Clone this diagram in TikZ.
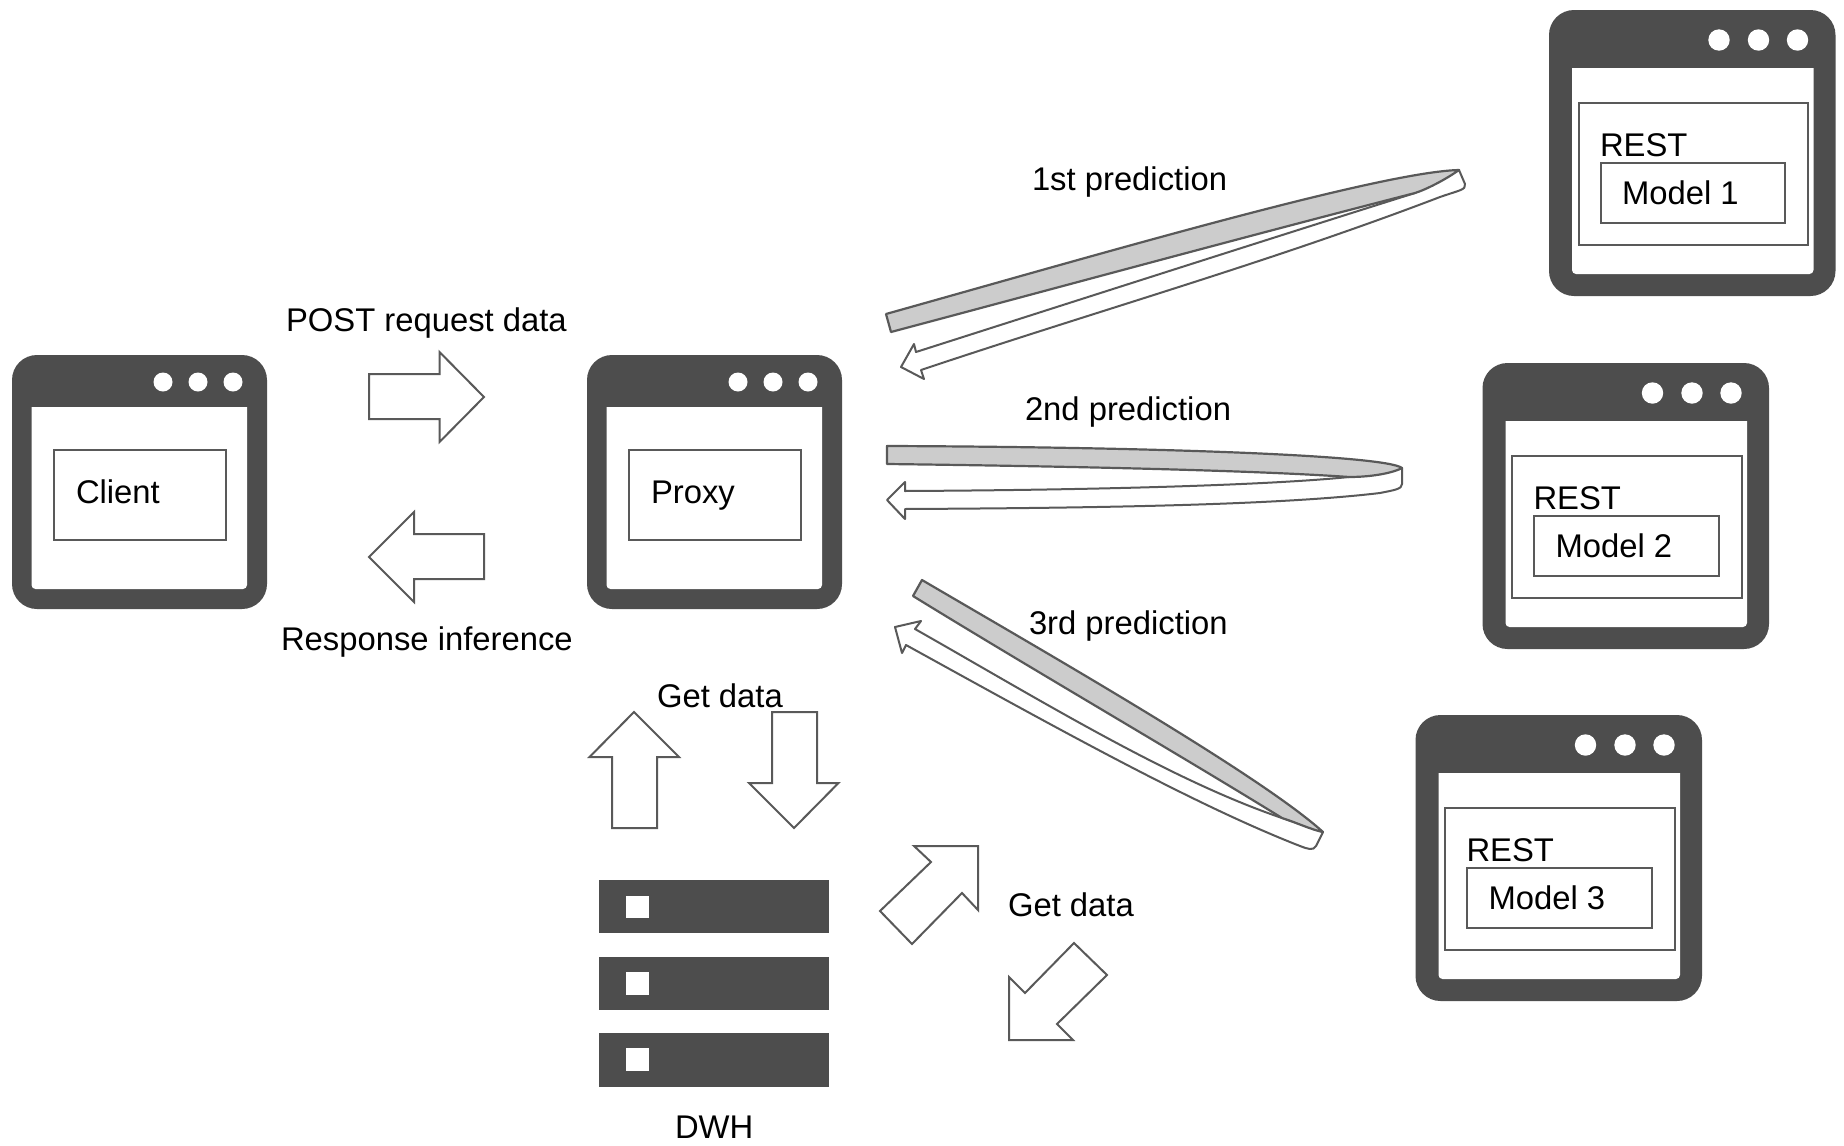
\documentclass[tikz,border=0pt]{standalone}
\usepackage{fontspec}
\setmainfont{Liberation Sans}
\definecolor{dark}{HTML}{4D4D4D}
\definecolor{edge}{HTML}{595959}
\definecolor{band}{HTML}{CCCCCC}
\tikzset{
  lbl/.style={anchor=base west,inner sep=0pt,outer sep=0pt,text=black,font=\fontsize{16.4pt}{20pt}\selectfont},
  blockarrow/.style={draw=edge,line width=1pt,fill=white,line join=miter},
  bandfill/.style={draw=edge,line width=1.1pt,fill=band,line join=round},
  framebox/.style={draw=edge,line width=1pt,fill=white},
  shell/.style={fill=dark,rounded corners=12.5pt},
  pane/.style={fill=white},
  dot/.style={fill=white},
  bar/.style={fill=dark},
}
% small window: x y name-text name
\newcommand\smallwin[4]{%
  \begin{scope}[shift={(#1,#2)}]
    \fill[shell] (0,0) rectangle (255,254);
    \fill[pane] (19.5,52) -- (235,52) [rounded corners=2pt] -- (235,234) -- (19.5,234) [sharp corners] -- cycle;
    \fill[dot] (151,27) circle (9.5) (186,27) circle (9.5) (221,27) circle (9.5);
    \draw[framebox] (41.5,95) rectangle (213.5,185);
    \node[lbl] (#4) at (64,148) {#3};
  \end{scope}}
% large window: x y model-text index
\newcommand\largewin[4]{%
  \begin{scope}[shift={(#1,#2)}]
    \fill[shell] (0,0) rectangle (286.5,286);
    \fill[pane] (23,58) -- (264.5,58) [rounded corners=2pt] -- (264.5,264) -- (23,264) [sharp corners] -- cycle;
    \fill[dot] (170,30) circle (10.7) (209.5,30) circle (10.7) (248.5,30) circle (10.7);
    \draw[framebox] (29.5,93) rectangle (259,235);
    \draw[framebox] (51.5,153) rectangle (236,212.5);
    \node[lbl] (rest#4) at (51,146) {REST};
    \node[lbl] (model#4) at (73,194) {#3};
  \end{scope}}
\begin{document}
\begin{tikzpicture}[x=0.5pt,y=-0.5pt]
\useasboundingbox (0,0) rectangle (1844,1146);
\fill[white] (0,0) rectangle (1844,1146);

\smallwin{12}{355}{Client}{client}
\smallwin{587}{355}{Proxy}{proxy}
\largewin{1549}{10}{Model 1}{a}
\largewin{1482.5}{363}{Model 2}{b}
\largewin{1415.5}{715}{Model 3}{c}

% horizontal block arrows
\path[blockarrow] (369,374) -- (439.5,374) -- (439.5,352) -- (484,397) -- (439.5,442) -- (439.5,419) -- (369,419) -- cycle;
\path[blockarrow] (369,557) -- (414,512) -- (414,534) -- (484,534) -- (484,579) -- (414,579) -- (414,602) -- cycle;
% vertical block arrows
\path[blockarrow] (634,712) -- (679,757) -- (657,757) -- (657,828) -- (612,828) -- (612,757) -- (589.5,757) -- cycle;
\path[blockarrow] (772,712) -- (817,712) -- (817,783) -- (838.5,783) -- (794,828) -- (749,783) -- (772,783) -- cycle;
% diagonal block arrows
\path[blockarrow] (880,911) -- (931,862) -- (914,846) -- (978,846) -- (978,910) -- (962,893) -- (912,944) -- cycle;
\path[blockarrow] (1074,943) -- (1107,975) -- (1057,1024) -- (1073,1040) -- (1009,1040) -- (1009,977) -- (1025,993) -- cycle;

% 1st prediction
\path[blockarrow,line join=round] (1459,170) -- (1465,184) .. controls (1466,190) and (1460,190) .. (1440,197) .. controls (1270,262) and (1100,310) .. (921,370) -- (924,379) -- (901,367) -- (914,344) -- (916,352) .. controls (1085,298) and (1250,245) .. (1415,193) -- cycle;
\path[bandfill] (886,314) .. controls (1100,254) and (1380,172) .. (1459,170) .. controls (1445,180) and (1425,190) .. (1415,193) .. controls (1240,238) and (1060,287) .. (891,332) -- cycle;
% 2nd prediction
\path[blockarrow,line join=round] (1402,468) -- (1402,484) .. controls (1402,489) and (1395,490) .. (1380,493) .. controls (1280,505) and (1100,508) .. (905,509) -- (905,519) -- (887,500) -- (905,482) -- (905,491) .. controls (1100,490) and (1270,485) .. (1349,477) -- cycle;
\path[bandfill] (887,446) .. controls (1150,447) and (1385,455) .. (1402,468) .. controls (1395,472) and (1375,477) .. (1349,477) .. controls (1250,470) and (1050,466) .. (887,464) -- cycle;
% 3rd prediction
\path[blockarrow,line join=round] (1323,832) -- (1316,846) .. controls (1313,851) and (1308,849) .. (1300,846) .. controls (1195,805) and (1060,730) .. (906,645) -- (902,653) -- (895,627) -- (921,621) -- (915,629) .. controls (1040,700) and (1170,780) .. (1282,818) -- cycle;
\path[bandfill] (922,580) .. controls (1050,655) and (1260,775) .. (1323,832) .. controls (1312,830) and (1295,822) .. (1282,818) .. controls (1180,755) and (1030,668) .. (913,596) -- cycle;

% DWH
\fill[bar] (599,880) rectangle (829,933);
\fill[bar] (599,957) rectangle (829,1010);
\fill[bar] (599,1033) rectangle (829,1087);
\fill[white] (626,896) rectangle (649,918);
\fill[white] (626,972) rectangle (649,995);
\fill[white] (626,1048) rectangle (649,1071);

% labels
\node[lbl] (post) at (286,331) {POST request data};
\node[lbl] (resp) at (281,650) {Response inference};
\node[lbl] (first) at (1032,190) {1st prediction};
\node[lbl] (second) at (1025,420) {2nd prediction};
\node[lbl] (third) at (1029,634) {3rd prediction};
\node[lbl] (getone) at (657,707) {Get data};
\node[lbl] (gettwo) at (1008,916) {Get data};
\node[lbl] (dwh) at (675,1138) {DWH};
\end{tikzpicture}
\end{document}
